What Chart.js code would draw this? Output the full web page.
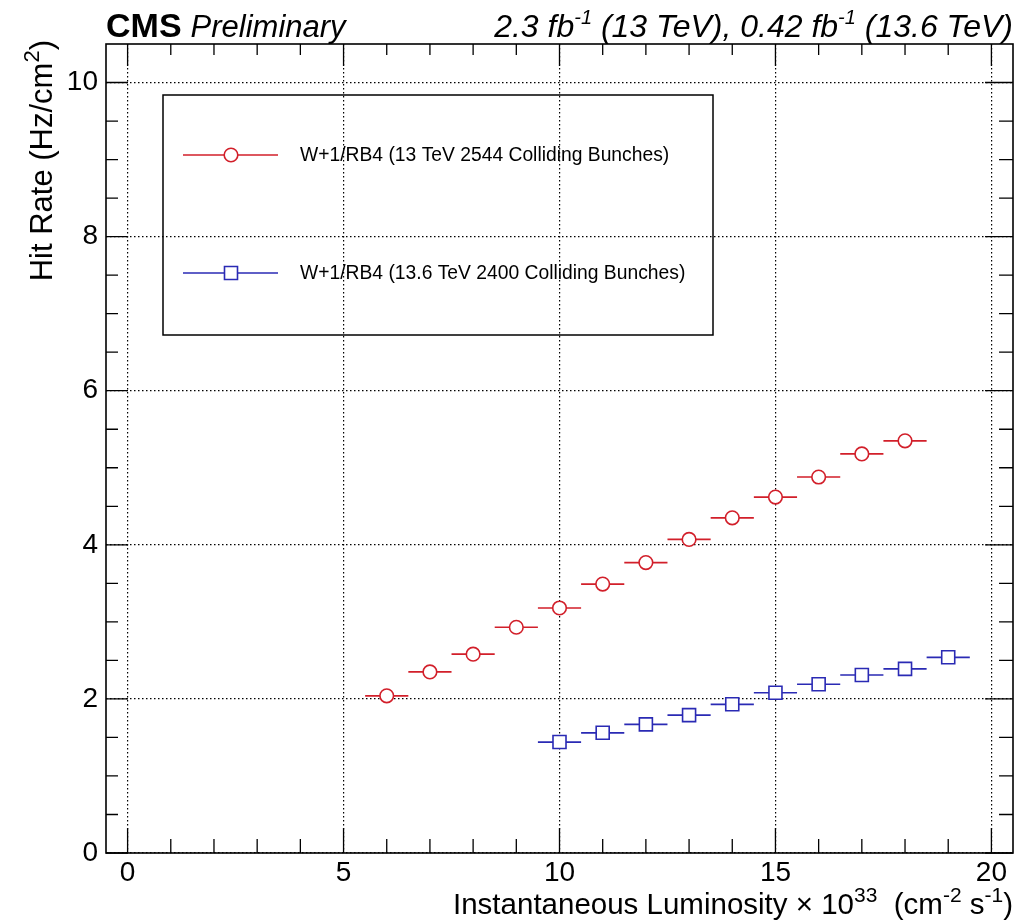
<!DOCTYPE html>
<html>
<head>
<meta charset="utf-8">
<title>RPC hit rate vs luminosity</title>
<script src="https://cdn.jsdelivr.net/npm/chart.js@4.4.1/dist/chart.umd.min.js"></script>
<style>
  html, body { margin: 0; padding: 0; background: #fff; }
  #wrap { width: 1028px; height: 922px; }
</style>
</head>
<body>
<div id="wrap"><canvas id="grafico" width="1028" height="922"></canvas></div>
<script>
// W+1/RB4 hit rate per luminosity bin
const lumi13 = [6, 7, 8, 9, 10, 11, 12, 13, 14, 15, 16, 17, 18];
const rate13 = [2.04, 2.35, 2.58, 2.93, 3.18, 3.49, 3.77, 4.07, 4.35, 4.62, 4.88, 5.18, 5.35];
const lumi136 = [10, 11, 12, 13, 14, 15, 16, 17, 18, 19];
const rate136 = [1.44, 1.56, 1.67, 1.79, 1.93, 2.08, 2.19, 2.31, 2.39, 2.54];
const binHalfWidth = 0.5;

const label13 = "W+1/RB4 (13 TeV 2544 Colliding Bunches)";
const label136 = "W+1/RB4 (13.6 TeV 2400 Colliding Bunches)";

const xMajorTicks = [0, 5, 10, 15, 20];
const yMajorTicks = [0, 2, 4, 6, 8, 10];

const RED = "#d21f2a";
const BLUE = "#2a2ab4";
const FONT = '"Liberation Sans", Arial, Helvetica, sans-serif';

// text with superscripts: parts = [[text, isSup], ...]
function richWidth(ctx, parts, size, style, supScale){
  let w = 0;
  parts.forEach(([t, sup])=>{
    ctx.font = `${style} ${sup ? Math.round(size*supScale) : size}px ${FONT}`;
    w += ctx.measureText(t).width;
  });
  return w;
}
function drawRich(ctx, parts, x, y, size, style, supScale){
  let cx = x;
  ctx.textBaseline = "alphabetic";
  ctx.textAlign = "left";
  parts.forEach(([t, sup])=>{
    ctx.font = `${style} ${sup ? Math.round(size*supScale) : size}px ${FONT}`;
    ctx.fillText(t, cx, sup ? y - size*0.42 : y);
    cx += ctx.measureText(t).width;
  });
}

function drawMarker(ctx, style, color, x, y){
  ctx.save();
  ctx.lineWidth = 1.6;
  ctx.strokeStyle = color;
  ctx.fillStyle = "#fff";
  ctx.beginPath();
  if(style === "circle") ctx.arc(x, y, 6.8, 0, Math.PI*2);
  else ctx.rect(x-6.5, y-6.5, 13, 13);
  ctx.fill();
  ctx.stroke();
  ctx.restore();
}

const errorBars = {
  id: "errorBars",
  beforeDatasetsDraw(chart){
    const {ctx, scales:{x, y}} = chart;
    ctx.save();
    ctx.lineWidth = 1.7;
    chart.data.datasets.forEach(ds=>{
      ctx.strokeStyle = ds.borderColor;
      ctx.beginPath();
      ds.data.forEach(p=>{
        const py = y.getPixelForValue(p.y);
        ctx.moveTo(x.getPixelForValue(p.x - binHalfWidth), py);
        ctx.lineTo(x.getPixelForValue(p.x + binHalfWidth), py);
      });
      ctx.stroke();
    });
    ctx.restore();
  }
};

const frameAndText = {
  id: "frameAndText",
  afterDraw(chart){
    const {ctx, chartArea:a, scales:{x, y}} = chart;
    ctx.save();

    // frame
    ctx.strokeStyle = "#000";
    ctx.lineWidth = 1.6;
    ctx.strokeRect(a.left, a.top, a.right - a.left, a.bottom - a.top);

    // ticks drawn inside the frame, ROOT style
    ctx.lineWidth = 1.3;
    ctx.beginPath();
    for(let v = 0; v <= 20; v++){
      const px = x.getPixelForValue(v);
      const major = xMajorTicks.includes(v);
      ctx.moveTo(px, a.bottom); ctx.lineTo(px, a.bottom - (major ? 25 : 14));
      ctx.moveTo(px, a.top); ctx.lineTo(px, a.top + (major ? 22 : 11));
    }
    for(let v = 0; v < 10.5; v += 0.5){
      const py = y.getPixelForValue(v);
      const major = yMajorTicks.includes(v);
      ctx.moveTo(a.left, py); ctx.lineTo(a.left + (major ? 22 : 12), py);
      ctx.moveTo(a.right, py); ctx.lineTo(a.right - (major ? 28 : 14), py);
    }
    ctx.stroke();

    // legend
    ctx.lineWidth = 1.5;
    ctx.strokeRect(163, 95, 550, 240);
    [[label13, RED, "circle", 155], [label136, BLUE, "rect", 273]].forEach(([txt, col, st, ly])=>{
      ctx.strokeStyle = col;
      ctx.lineWidth = 1.5;
      ctx.beginPath(); ctx.moveTo(183, ly); ctx.lineTo(278, ly); ctx.stroke();
      drawMarker(ctx, st, col, 231, ly);
      ctx.fillStyle = "#000";
      ctx.font = `19.3px ${FONT}`;
      ctx.textAlign = "left";
      ctx.textBaseline = "middle";
      ctx.fillText(txt, 300, ly + 1);
    });

    // header
    ctx.fillStyle = "#000";
    ctx.textBaseline = "alphabetic";
    ctx.textAlign = "left";
    ctx.font = `bold 34px ${FONT}`;
    ctx.fillText("CMS", 106, 37);
    const cmsW = ctx.measureText("CMS").width;
    ctx.font = `italic 31px ${FONT}`;
    ctx.fillText("Preliminary", 106 + cmsW + 9, 37);

    const lumiText = [["2.3 fb", false], ["-1", true], [" (13 TeV), 0.42 fb", false], ["-1", true], [" (13.6 TeV)", false]];
    const lw = richWidth(ctx, lumiText, 32, "italic", 0.62);
    drawRich(ctx, lumiText, a.right - lw, 37, 32, "italic", 0.62);

    // x title
    const xTitle = [["Instantaneous Luminosity \u00d7 10", false], ["33", true], ["  (cm", false], ["-2", true], [" s", false], ["-1", true], [")", false]];
    const xw = richWidth(ctx, xTitle, 29.5, "", 0.72);
    drawRich(ctx, xTitle, a.right - xw, 914, 29.5, "", 0.72);

    // y title
    const yTitle = [["Hit Rate (Hz/cm", false], ["2", true], [")", false]];
    const yw = richWidth(ctx, yTitle, 31, "", 0.7);
    ctx.translate(52, a.top - 4);
    ctx.rotate(-Math.PI/2);
    drawRich(ctx, yTitle, -yw, 0, 31, "", 0.7);

    ctx.restore();
  }
};

const gridStyle = {
  color: "#000",
  lineWidth: 1.2,
  drawTicks: false
};

new Chart(document.getElementById("grafico"), {
  type: "scatter",
  data: {
    datasets: [
      {
        label: label13,
        data: lumi13.map((v, i)=>({x: v, y: rate13[i]})),
        borderColor: RED,
        backgroundColor: "#fff",
        pointStyle: "circle",
        pointRadius: 6.8,
        pointBorderWidth: 1.6
      },
      {
        label: label136,
        data: lumi136.map((v, i)=>({x: v, y: rate136[i]})),
        borderColor: BLUE,
        backgroundColor: "#fff",
        pointStyle: "rect",
        pointRadius: 9.2,
        pointBorderWidth: 1.6
      }
    ]
  },
  options: {
    responsive: false,
    animation: false,
    layout: { padding: { left: 6, top: 44, right: 15, bottom: 0 } },
    plugins: { legend: { display: false }, tooltip: { enabled: false } },
    scales: {
      x: {
        type: "linear",
        min: -0.5, max: 20.5,
        afterFit: s=>{ s.height = 69; },
        afterBuildTicks: s=>{ s.ticks = xMajorTicks.map(v=>({value: v})); },
        border: { display: false, dash: [1.5, 2.5] },
        grid: gridStyle,
        ticks: {
          autoSkip: false, maxRotation: 0, padding: 3,
          color: "#000",
          font: { family: FONT, size: 28 }
        }
      },
      y: {
        type: "linear",
        min: 0, max: 10.5,
        afterFit: s=>{ s.width = 100; },
        afterBuildTicks: s=>{ s.ticks = yMajorTicks.map(v=>({value: v})); },
        border: { display: false, dash: [1.5, 2.5] },
        grid: gridStyle,
        ticks: {
          padding: 8,
          color: "#000",
          font: { family: FONT, size: 28 }
        }
      }
    }
  },
  plugins: [errorBars, frameAndText]
});
</script>
</body>
</html>
